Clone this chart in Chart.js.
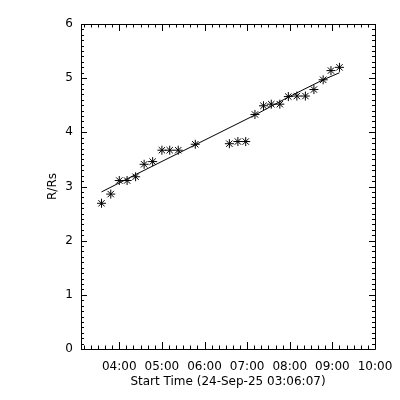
<!DOCTYPE html>
<html>
<head>
<meta charset="utf-8">
<script src="https://cdn.jsdelivr.net/npm/chart.js@4/dist/chart.umd.min.js"></script>
<style>
  html, body { margin: 0; padding: 0; background: #fff; }
  #wrap { width: 400px; height: 400px; }
</style>
</head>
<body>
<div id="wrap"><canvas id="chart"></canvas></div>
<script>
// measured height-time points (R/Rs)
const obsTimes = ['03:35', '03:48', '04:00', '04:11', '04:23', '04:35', '04:47', '05:00', '05:11', '05:23',
  '05:47', '06:35', '06:47', '06:58', '07:11', '07:23', '07:34', '07:46', '07:58', '08:10',
  '08:22', '08:34', '08:47', '08:58', '09:10']
const obsHeights = [2.69, 2.86, 3.11, 3.11, 3.18, 3.41, 3.46, 3.67, 3.67, 3.67,
  3.78, 3.79, 3.83, 3.83, 4.33, 4.49, 4.52, 4.52, 4.66, 4.67,
  4.67, 4.79, 4.97, 5.14, 5.20]

// fitted line
const fitTimes = ['03:35', '04:23', '05:47', '07:11', '07:58', '08:47', '09:10']
const fitHeights = [2.90, 3.22, 3.77, 4.32, 4.65, 4.97, 5.10]

const xTickHours = [4, 5, 6, 7, 8, 9, 10]
const yTickValues = [0, 1, 2, 3, 4, 5, 6]
const startTime = '03:06:07'
const xTitle = 'Start Time (24-Sep-25 03:06:07)'
const yTitle = 'R/Rs'

const toHours = (s) => {
  const p = s.split(':').map(Number)
  return p[0] + (p[1] || 0) / 60 + (p[2] || 0) / 3600
}
const pad2 = (n) => String(n).padStart(2, '0')

const xMin = toHours(startTime)
const xMax = 10
const ink = '#000'
const font = { family: 'DejaVu Sans, sans-serif', size: 12 }

// IDL-style box with inward ticks on all four sides
const boxTicks = {
  id: 'boxTicks',
  afterDatasetsDraw(chart) {
    const { ctx, chartArea: a, scales: { x, y } } = chart
    ctx.save()
    ctx.strokeStyle = ink
    ctx.lineWidth = 1
    ctx.beginPath()
    ctx.rect(Math.round(a.left) + 0.5, Math.round(a.top) + 0.5,
      Math.round(a.right - a.left), Math.round(a.bottom - a.top))
    ctx.stroke()

    ctx.beginPath()
    for (let m = Math.ceil(xMin * 6); m <= xMax * 6; m++) {
      const px = Math.round(x.getPixelForValue(m / 6)) + 0.5
      const len = m % 6 === 0 ? 7 : 3.5
      ctx.moveTo(px, a.bottom); ctx.lineTo(px, a.bottom - len)
      ctx.moveTo(px, a.top); ctx.lineTo(px, a.top + len)
    }
    for (let k = 0; k <= 60; k++) {
      const py = Math.round(y.getPixelForValue(k / 10)) + 0.5
      const len = k % 10 === 0 ? 6 : 3
      ctx.moveTo(a.left, py); ctx.lineTo(a.left + len, py)
      ctx.moveTo(a.right, py); ctx.lineTo(a.right - len, py)
    }
    ctx.stroke()
    ctx.restore()
  }
}

new Chart(document.getElementById('chart'), {
  type: 'scatter',
  data: {
    datasets: [
      {
        label: 'fit',
        data: fitTimes.map((t, i) => ({ x: toHours(t), y: fitHeights[i] })),
        showLine: true,
        borderColor: ink,
        borderWidth: 1,
        pointRadius: 0,
        tension: 0,
      },
      {
        label: 'height',
        data: obsTimes.map((t, i) => ({ x: toHours(t), y: obsHeights[i] })),
        pointStyle: 'star',
        pointRadius: 4.5,
        borderColor: ink,
        borderWidth: 1,
        backgroundColor: ink,
      },
    ],
  },
  options: {
    responsive: true,
    maintainAspectRatio: false,
    animation: false,
    layout: { padding: { left: 0, right: 25, top: 24, bottom: 0 } },
    plugins: { legend: { display: false }, tooltip: { enabled: false } },
    scales: {
      x: {
        type: 'linear',
        min: xMin,
        max: xMax,
        grid: { display: false, drawTicks: false },
        border: { display: false },
        afterBuildTicks: (s) => { s.ticks = xTickHours.map((v) => ({ value: v })) },
        afterFit: (s) => { s.height = 51; s.paddingLeft = 0; s.paddingRight = 0 },
        ticks: {
          color: ink,
          font,
          padding: 11,
          maxRotation: 0,
          autoSkip: false,
          callback: (v) => pad2(v) + ':00',
        },
        title: { display: true, text: xTitle, color: ink, font, padding: { top: 0, bottom: 11 } },
      },
      y: {
        min: 0,
        max: 6,
        grid: { display: false, drawTicks: false },
        border: { display: false },
        afterBuildTicks: (s) => { s.ticks = yTickValues.map((v) => ({ value: v })) },
        afterFit: (s) => { s.width = 81; s.paddingTop = 0; s.paddingBottom = 0 },
        ticks: { color: ink, font, padding: 8, callback: (v) => String(v) },
        title: { display: true, text: yTitle, color: ink, font, padding: { top: 46, bottom: 0 } },
      },
    },
  },
  plugins: [boxTicks],
})
</script>
</body>
</html>
